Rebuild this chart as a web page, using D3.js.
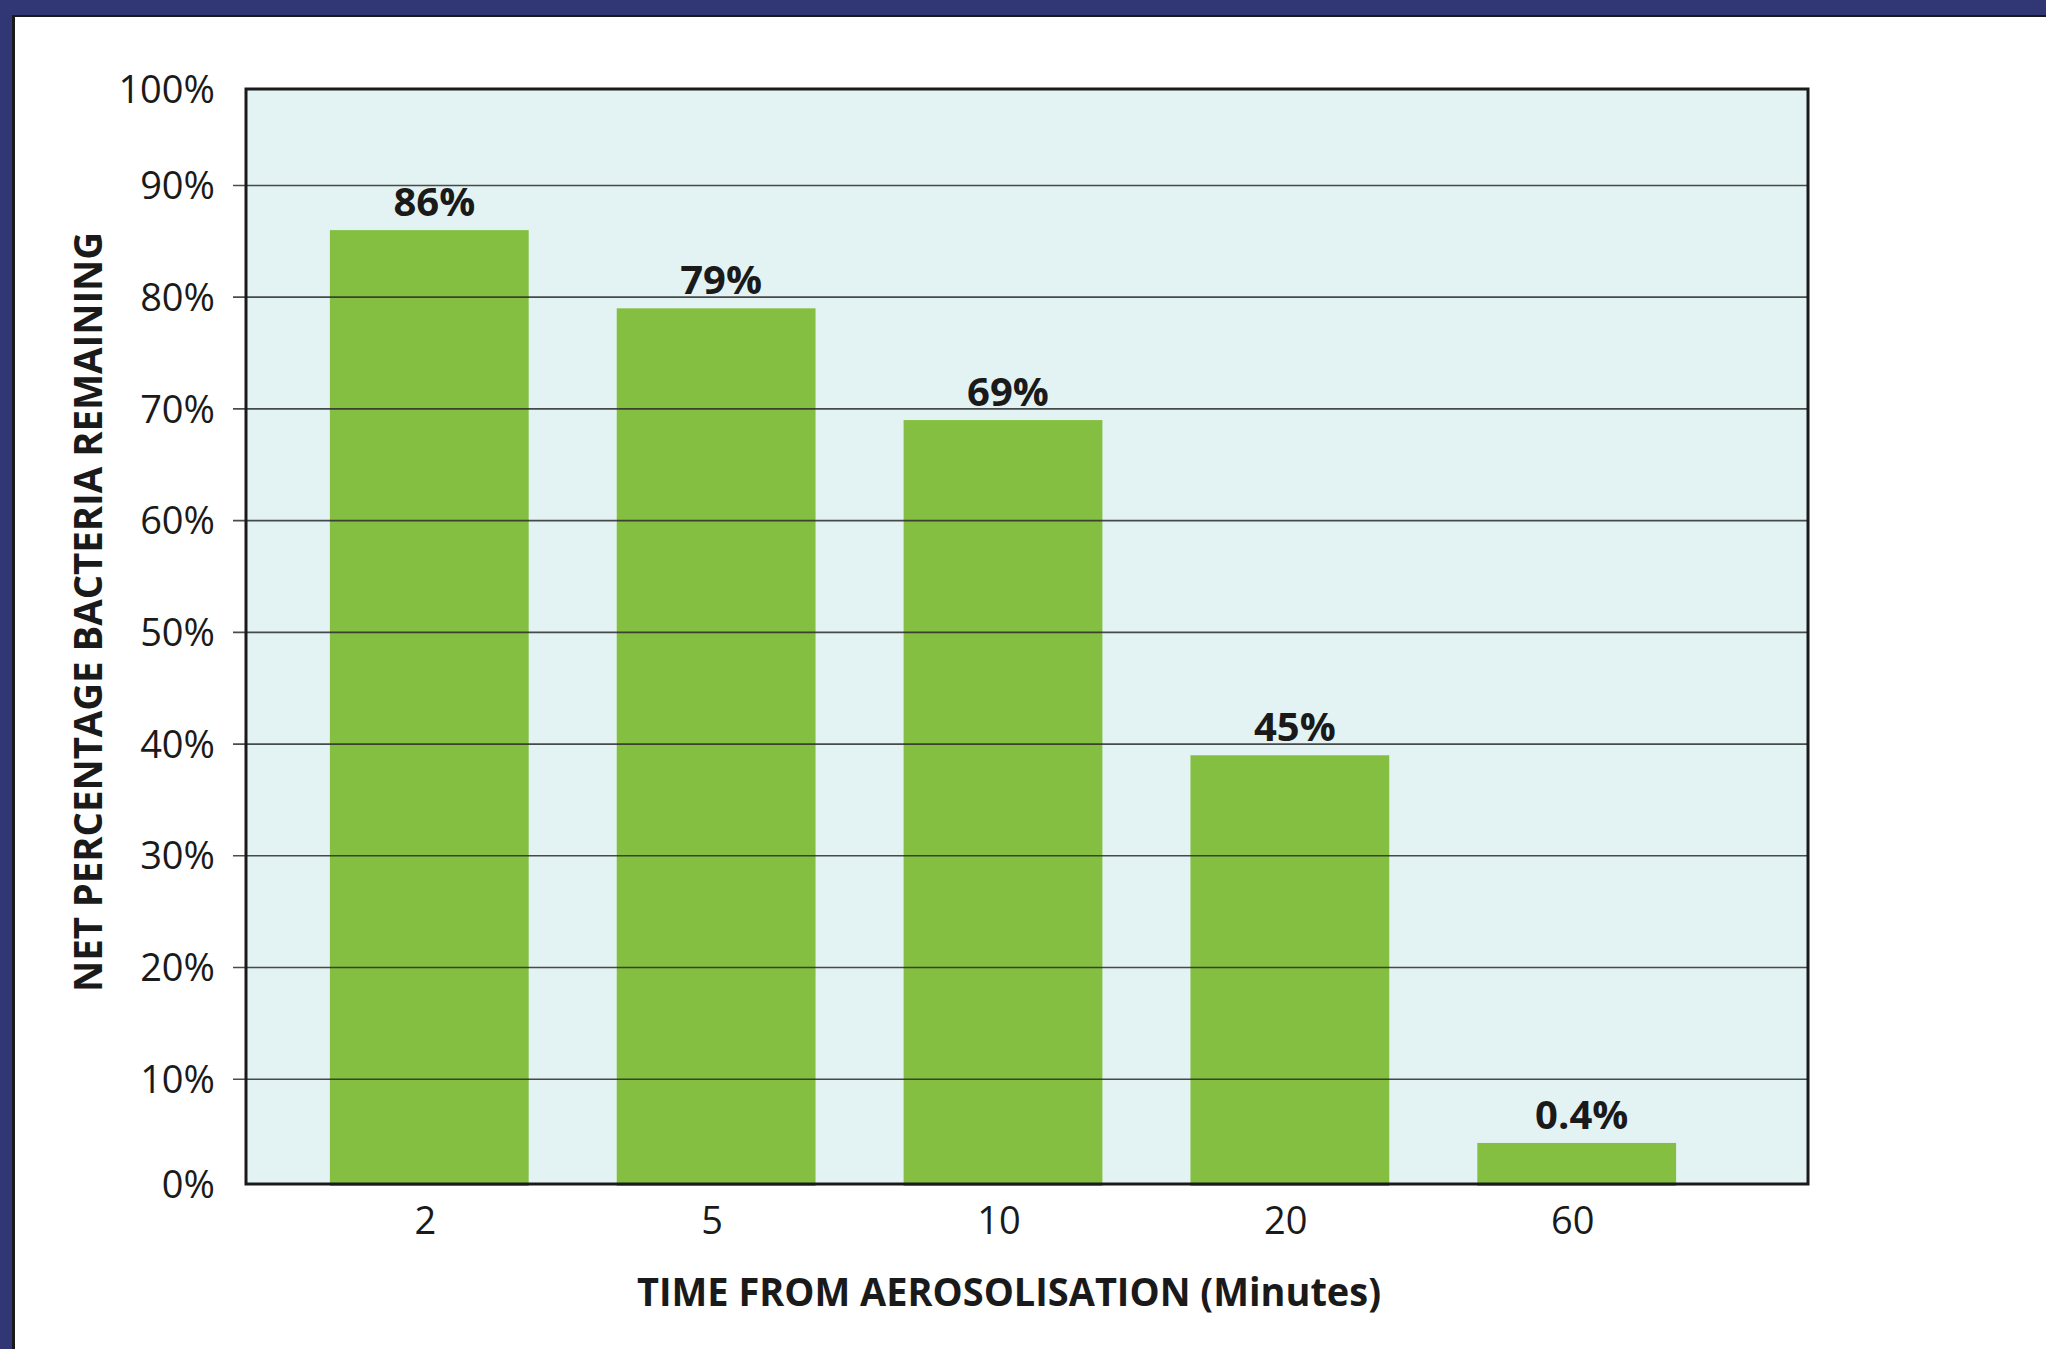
<!DOCTYPE html>
<html>
<head>
<meta charset="utf-8">
<script src="https://cdn.jsdelivr.net/npm/d3@7"></script>
<style>
  body { margin: 0; background: #fff; }
  text { font-family: "Open Sans", "Noto Sans", sans-serif; fill: #1a1a1a; }
</style>
</head>
<body>
<div id="chart"></div>
<script>
// data
const minutes = ["2", "5", "10", "20", "60"];
const barValues = [86, 79, 69, 39, 4.3]; // drawn bar heights (%)
const barLabels = ["86%", "79%", "69%", "45%", "0.4%"]; // printed labels
const yTicks = [0, 10, 20, 30, 40, 50, 60, 70, 80, 90, 100];

const width = 2046;
const height = 1349;

// plot frame
const frameLeft = 246;
const frameRight = 1808;
const frameTop = 89;
const frameBottom = 1184;

const svg = d3
  .select("#chart")
  .append("svg")
  .attr("width", width)
  .attr("height", height);

// navy page border (top and left only)
svg.append("rect").attr("x", 0).attr("y", 0).attr("width", width).attr("height", height).attr("fill", "#fff");
svg.append("rect").attr("x", 0).attr("y", 0).attr("width", width).attr("height", 15).attr("fill", "#303774");
svg.append("rect").attr("x", 0).attr("y", 0).attr("width", 12).attr("height", height).attr("fill", "#303774");
svg.append("line").attr("x1", 13.5).attr("x2", 13.5).attr("y1", 15).attr("y2", height).attr("stroke", "#1a1a1a").attr("stroke-width", 3);
svg.append("line").attr("x1", 12).attr("x2", width).attr("y1", 16).attr("y2", 16).attr("stroke", "#1a1a1a").attr("stroke-width", 2);

const y = d3.scaleLinear().domain([0, 100]).range([1191, 73.7]);

const x = d3
  .scaleBand()
  .domain(minutes)
  .range([286, 1720])
  .paddingInner(0.307)
  .paddingOuter(0.153);

// plot background
svg
  .append("rect")
  .attr("x", frameLeft)
  .attr("y", frameTop)
  .attr("width", frameRight - frameLeft)
  .attr("height", frameBottom - frameTop)
  .attr("fill", "#e3f3f3");

svg
  .append("clipPath")
  .attr("id", "plotclip")
  .append("rect")
  .attr("x", frameLeft)
  .attr("y", frameTop)
  .attr("width", frameRight - frameLeft)
  .attr("height", frameBottom - frameTop + 2);

// bars
svg
  .append("g")
  .attr("clip-path", "url(#plotclip)")
  .selectAll("rect")
  .data(barValues)
  .enter()
  .append("rect")
  .attr("x", (d, i) => x(minutes[i]))
  .attr("y", (d) => y(d))
  .attr("width", x.bandwidth())
  .attr("height", (d) => y(0) - y(d))
  .attr("fill", "#84bf41");

// gridlines with a short tick outside the frame
svg
  .append("g")
  .selectAll("line")
  .data(yTicks.filter((d) => d > 0 && d < 100))
  .enter()
  .append("line")
  .attr("x1", 233)
  .attr("x2", frameRight)
  .attr("y1", (d) => y(d))
  .attr("y2", (d) => y(d))
  .attr("stroke", "#2b2b2b")
  .attr("stroke-opacity", 0.85)
  .attr("stroke-width", 1.6);

// frame
svg
  .append("rect")
  .attr("x", frameLeft)
  .attr("y", frameTop)
  .attr("width", frameRight - frameLeft)
  .attr("height", frameBottom - frameTop)
  .attr("fill", "none")
  .attr("stroke", "#1a1a1a")
  .attr("stroke-width", 3);

// y tick labels, the end ones sit on the frame edges
svg
  .append("g")
  .selectAll("text")
  .data(yTicks)
  .enter()
  .append("text")
  .attr("x", 215)
  .attr("y", (d) => Math.min(Math.max(y(d), frameTop), frameBottom))
  .attr("dy", "0.36em")
  .attr("text-anchor", "end")
  .style("font-size", "38px")
  .text((d) => d + "%");

// x tick labels
svg
  .append("g")
  .selectAll("text")
  .data(minutes)
  .enter()
  .append("text")
  .attr("x", (d) => x(d) + x.bandwidth() / 2 - 4)
  .attr("y", 1234)
  .attr("text-anchor", "middle")
  .style("font-size", "38px")
  .text((d) => d);

// value labels above bars
svg
  .append("g")
  .selectAll("text")
  .data(barValues)
  .enter()
  .append("text")
  .attr("x", (d, i) => x(minutes[i]) + x.bandwidth() / 2 + 5)
  .attr("y", (d) => y(d) - 14)
  .attr("text-anchor", "middle")
  .style("font-size", "40px")
  .style("font-weight", "bold")
  .text((d, i) => barLabels[i]);

// axis titles
svg
  .append("text")
  .attr("x", 1009)
  .attr("y", 1306)
  .attr("text-anchor", "middle")
  .style("font-size", "39px")
  .style("font-weight", "bold")
  .attr("textLength", 744)
  .attr("lengthAdjust", "spacingAndGlyphs")
  .text("TIME FROM AEROSOLISATION (Minutes)");

svg
  .append("text")
  .attr("transform", "translate(102,612) rotate(-90)")
  .attr("text-anchor", "middle")
  .style("font-size", "40px")
  .style("font-weight", "bold")
  .attr("textLength", 760)
  .attr("lengthAdjust", "spacingAndGlyphs")
  .text("NET PERCENTAGE BACTERIA REMAINING");
</script>
</body>
</html>
